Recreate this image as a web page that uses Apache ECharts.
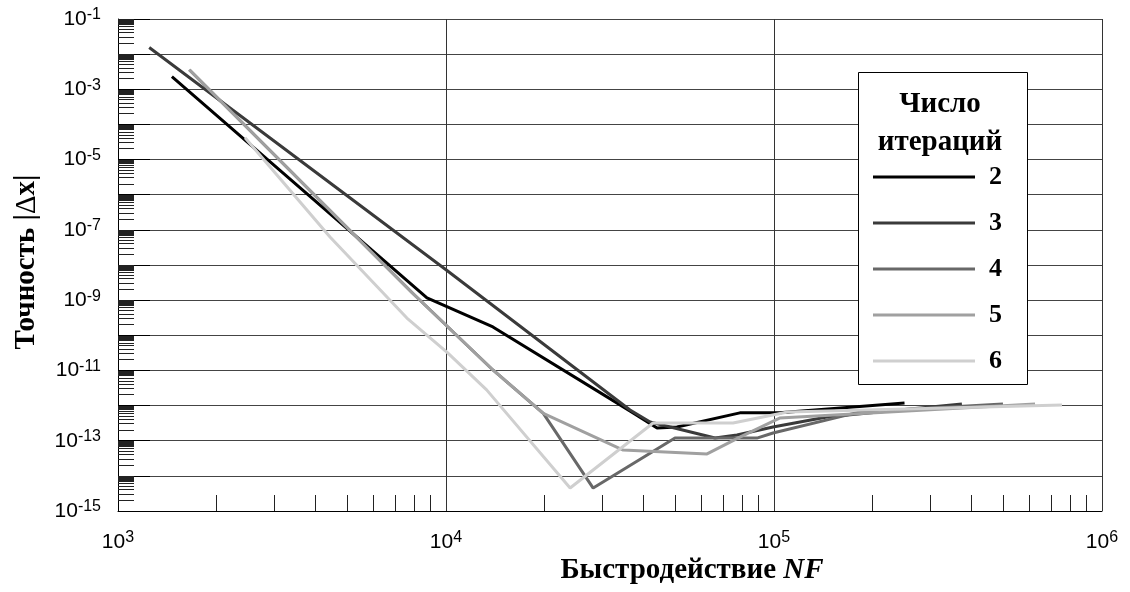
<!DOCTYPE html>
<html><head><meta charset="utf-8">
<script src="https://cdn.jsdelivr.net/npm/echarts@6/dist/echarts.min.js"></script>
<style>html,body{margin:0;padding:0;background:#fff}#c{width:1130px;height:592px}</style>
</head><body><div id="c"></div>
<script>
// ---- data ----
const seriesNames = ['2', '3', '4', '5', '6'];
const seriesColors = ['#000000', '#3a3a3a', '#686868', '#a0a0a0', '#cfcfcf'];

const nf2  = [1460, 8750, 13900, 37200, 44000, 50600, 78700, 104000, 250000];
const acc2 = [2.3e-3, 1.16e-9, 1.73e-10, 6.2e-13, 2.3e-13, 2.45e-13, 6.2e-13, 6.2e-13, 1.19e-12];

const nf3  = [1245, 10000, 36400, 41900, 66100, 77100, 99300, 145000, 374000];
const acc3 = [1.54e-2, 7.3e-9, 7.5e-13, 3.4e-13, 1.19e-13, 1.45e-13, 2.45e-13, 4.7e-13, 1.11e-12];

const nf4  = [1650, 7900, 13900, 19800, 28100, 49900, 88700, 99300, 183000, 499000];
const acc4 = [3.6e-3, 1.6e-9, 1.03e-11, 6.0e-13, 4.5e-15, 1.19e-13, 1.19e-13, 1.66e-13, 6.6e-13, 1.11e-12];

const nf5  = [1650, 7900, 13900, 19800, 34700, 62500, 78700, 104000, 625000];
const acc5 = [3.6e-3, 1.6e-9, 1.03e-11, 6.0e-13, 5.4e-14, 4.2e-14, 1.27e-13, 4.4e-13, 1.11e-12];

const nf6  = [2440, 4430, 7600, 10100, 13300, 23900, 42800, 75000, 110000, 755000];
const acc6 = [4.2e-5, 6.3e-8, 3.1e-10, 3.2e-11, 2.8e-12, 4.5e-15, 3.2e-13, 3.2e-13, 6.6e-13, 1.04e-12];

const xLabelExps = [3, 4, 5, 6];
const yLabelExps = [-1, -3, -5, -7, -9, -11, -13, -15];
const xMinorMult = [2, 3, 4, 5, 6, 7, 8, 9];
const xMinorDecades = [3, 4, 5];
const yMinorMult = [2, 3, 4, 5, 6, 7, 7.5, 8, 8.5, 9, 9.5];
const yMinorDecades = [-15, -14, -13, -12, -11, -10, -9, -8, -7, -6, -5, -4, -3, -2];

const legendTitle = 'Число\nитераций';
const xTitleA = 'Быстродействие ';
const xTitleB = 'NF';
const yTitleA = 'Точность ';
const yTitleB = '|';
const yTitleC = 'Δ';
const yTitleD = 'x|';
// ---------------

const xs = [nf2, nf3, nf4, nf5, nf6];
const ys = [acc2, acc3, acc4, acc5, acc6];

const xMinorTicks = [];
xMinorDecades.forEach(d => xMinorMult.forEach(m => xMinorTicks.push(m * Math.pow(10, d))));
const yMinorTicks = [];
yMinorDecades.forEach(d => yMinorMult.forEach(m => yMinorTicks.push(m * Math.pow(10, d))));

const sansFont = '"Liberation Sans", Arial, sans-serif';
const serifFont = '"Liberation Serif", "Times New Roman", serif';

const richLabel = {
  b: { fontSize: 21, fontFamily: sansFont, color: '#000', lineHeight: 24 },
  s: { fontSize: 16, fontFamily: sansFont, color: '#000', lineHeight: 19, verticalAlign: 'top' }
};
function expOf(v) { return Math.round(Math.log10(v)); }

const lineSeries = seriesNames.map((n, i) => ({
  name: n,
  type: 'line',
  data: xs[i].map((x, k) => [x, ys[i][k]]),
  symbol: 'none',
  showSymbol: false,
  lineStyle: { color: seriesColors[i], width: 3 },
  itemStyle: { color: seriesColors[i] },
  z: 2,
  animation: false
}));

function snap(v) { return Math.round(v - 0.5) + 0.5; }

const chart = echarts.init(document.getElementById('c'), null, { renderer: 'canvas' });
chart.setOption({
  animation: false,
  backgroundColor: '#fff',
  grid: { left: 118, right: 28, top: 19, bottom: 81 },
  xAxis: {
    type: 'log', logBase: 10, min: 1e3, max: 1e6, interval: 1,
    axisLine: { show: true, lineStyle: { color: '#000', width: 1 } },
    axisTick: { show: false },
    splitLine: { show: true, lineStyle: { color: '#333', width: 1 } },
    axisLabel: {
      margin: 19, fontSize: 21, fontFamily: sansFont, color: '#000',
      formatter: v => xLabelExps.indexOf(expOf(v)) >= 0 ? '{b|10}{s|' + expOf(v) + '}' : '',
      rich: richLabel
    }
  },
  yAxis: {
    type: 'log', logBase: 10, min: 1e-15, max: 1e-1, interval: 1,
    axisLine: { show: true, lineStyle: { color: '#000', width: 1 } },
    axisTick: { show: true, inside: true, length: 32, lineStyle: { color: '#000', width: 1 } },
    splitLine: { show: true, lineStyle: { color: '#444', width: 1 } },
    axisLabel: {
      margin: 17, fontSize: 21, fontFamily: sansFont, color: '#000',
      formatter: v => yLabelExps.indexOf(expOf(v)) >= 0 ? '{b|10}{s|' + expOf(v) + '}' : '',
      rich: richLabel
    }
  },
  legend: {
    data: seriesNames,
    orient: 'vertical',
    left: 873, top: 164,
    padding: 0,
    icon: 'rect',
    itemWidth: 102, itemHeight: 3, itemGap: 20,
    selectedMode: false,
    textStyle: { fontFamily: serifFont, fontWeight: 'bold', fontSize: 26, lineHeight: 24, color: '#000', padding: [0, 0, 0, 9] },
    z: 5
  },
  graphic: [
    { type: 'rect', z: 4, shape: { x: 858.5, y: 72.5, width: 169, height: 312 },
      style: { fill: '#fff', stroke: '#000', lineWidth: 1 } },
    { type: 'text', z: 10, x: 940, y: 86,
      style: { text: legendTitle, fill: '#000', font: 'bold 29px ' + serifFont, align: 'center', verticalAlign: 'top', lineHeight: 38 } },
    { type: 'text', z: 10, x: 692, y: 571,
      style: { text: '{a|' + xTitleA + '}{i|' + xTitleB + '}', align: 'center', verticalAlign: 'middle',
        rich: {
          a: { fontFamily: serifFont, fontWeight: 'bold', fontSize: 29, fill: '#000' },
          i: { fontFamily: serifFont, fontWeight: 'bold', fontStyle: 'italic', fontSize: 29, fill: '#000' }
        } } },
    { type: 'text', z: 10, x: 27, y: 262, rotation: Math.PI / 2,
      style: { text: '{a|' + yTitleA + yTitleB + '}{d|' + yTitleC + '}{a|' + yTitleD + '}', align: 'center', verticalAlign: 'middle',
        rich: {
          a: { fontFamily: serifFont, fontWeight: 'bold', fontSize: 29, fill: '#000' },
          d: { fontFamily: serifFont, fontWeight: 'normal', fontSize: 29, fill: '#000' }
        } } }
  ],
  series: lineSeries.concat([
    {
      type: 'custom', coordinateSystem: 'cartesian2d', silent: true, clip: false, z: 1,
      data: yMinorTicks.map(v => [1e3, v]),
      renderItem: (params, api) => {
        const p = api.coord([api.value(0), api.value(1)]);
        const y = snap(p[1]);
        return { type: 'line', shape: { x1: p[0], y1: y, x2: p[0] + 16, y2: y },
          style: { stroke: '#222', lineWidth: 1 } };
      }
    },
    {
      type: 'custom', coordinateSystem: 'cartesian2d', silent: true, clip: false, z: 1,
      data: xMinorTicks.map(v => [v, 1e-15]),
      renderItem: (params, api) => {
        const p = api.coord([api.value(0), api.value(1)]);
        const x = snap(p[0]);
        return { type: 'line', shape: { x1: x, y1: p[1], x2: x, y2: p[1] - 16 },
          style: { stroke: '#222', lineWidth: 1 } };
      }
    }
  ])
});
</script>
</body></html>
